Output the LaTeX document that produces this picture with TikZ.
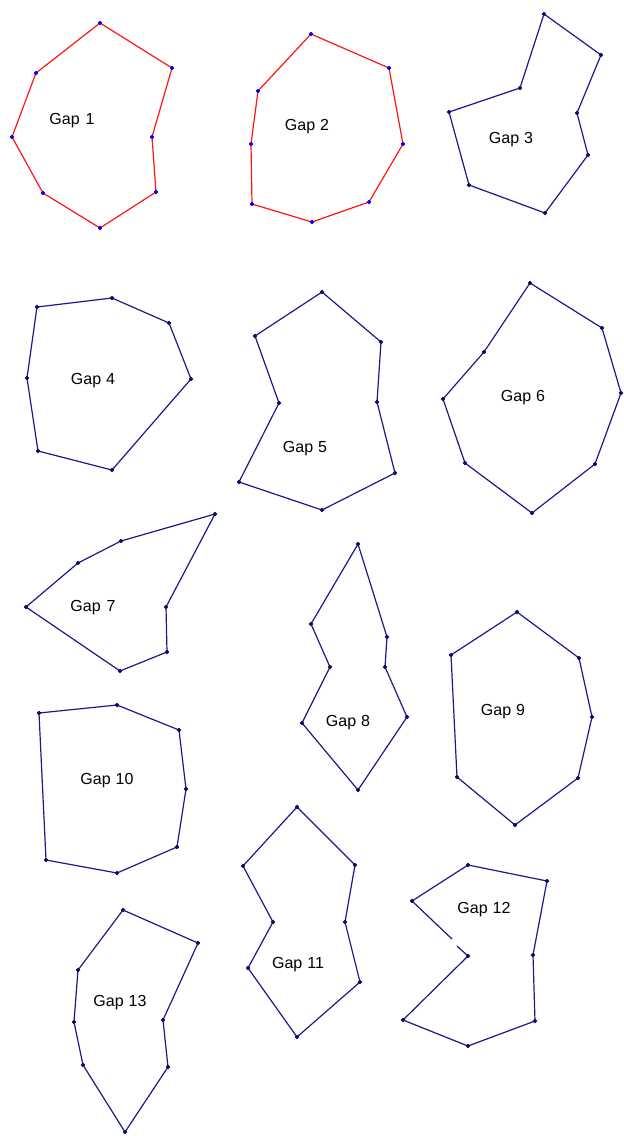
\documentclass[tikz,border=0pt]{standalone}
\usepackage{fontspec}
\setmainfont{Liberation Sans}
\definecolor{gapred}{RGB}{255,20,20}
\definecolor{gapnavy}{RGB}{25,25,140}
\definecolor{marknavy}{RGB}{15,15,100}
\begin{document}
\begin{tikzpicture}[x=1pt,y=-1pt,
  redline/.style={draw=gapred, line width=1.2pt, line join=round},
  navyline/.style={draw=gapnavy, line width=1.2pt, line join=round},
  redmarks/.style={mark=*, mark size=1.5pt, mark options={draw=blue, fill=blue}},
  navymarks/.style={mark=*, mark size=1.6pt, mark options={draw=marknavy, fill=marknavy}},
  gaplabel/.style={font=\fontsize{16}{16}\selectfont, inner sep=0pt}]
\useasboundingbox (0,0) rectangle (624,1136);
% Gap 1
\draw[redline] plot[redmarks] coordinates {(100,23) (172,68) (152,137) (156,192) (100,228) (43,193) (12,137) (36,73)} -- cycle;
\node[gaplabel] (g1) at (72,121) {Gap\hspace{6pt}1};
% Gap 2
\draw[redline] plot[redmarks] coordinates {(311,34) (389,68) (403,144) (369,202) (312,222) (252,204) (251,144) (258,91)} -- cycle;
\node[gaplabel] (g2) at (307,127) {Gap\hspace{5pt}2};
% Gap 3
\draw[navyline] plot[navymarks] coordinates {(544,14) (601,55) (577,113) (588,155) (545,213) (469,185) (449,112) (520,88)} -- cycle;
\node[gaplabel] (g3) at (511,140) {Gap\hspace{5pt}3};
% Gap 4
\draw[navyline] plot[navymarks] coordinates {(37,307) (112,298) (169,323) (191,379) (112,470) (38,451) (27,378)} -- cycle;
\node[gaplabel] (g4) at (93,381) {Gap\hspace{5pt}4};
% Gap 5
\draw[navyline] plot[navymarks] coordinates {(322,292) (381,342) (377,402) (395,473) (322,510) (239,482) (279,403) (255,336)} -- cycle;
\node[gaplabel] (g5) at (305,449) {Gap\hspace{5pt}5};
% Gap 6
\draw[navyline] plot[navymarks] coordinates {(530,283) (602,328) (621,393) (595,464) (532,513) (465,463) (443,399) (484,352)} -- cycle;
\node[gaplabel] (g6) at (523,398) {Gap\hspace{5pt}6};
% Gap 7
\draw[navyline] plot[navymarks] coordinates {(215,514) (166,607) (167,652) (120,671) (26,607) (78,563) (121,541)} -- cycle;
\node[gaplabel] (g7) at (93,608) {Gap\hspace{6pt}7};
% Gap 8
\draw[navyline] plot[navymarks] coordinates {(358,544) (387,637) (385,667) (407,717) (358,790) (302,723) (330,667) (311,624)} -- cycle;
\node[gaplabel] (g8) at (348,723) {Gap\hspace{5pt}8};
% Gap 9
\draw[navyline] plot[navymarks] coordinates {(517,612) (579,658) (592,717) (578,778) (515,825) (457,777) (451,655)} -- cycle;
\node[gaplabel] (g9) at (503,712) {Gap\hspace{5pt}9};
% Gap 10
\draw[navyline] plot[navymarks] coordinates {(39,713) (117,705) (179,730) (186,789) (177,847) (117,873) (46,860)} -- cycle;
\node[gaplabel] (g10) at (107,781) {Gap\hspace{5pt}10};
% Gap 11
\draw[navyline] plot[navymarks] coordinates {(297,807) (355,865) (345,922) (360,982) (297,1037) (248,968) (273,922) (243,866)} -- cycle;
\node[gaplabel] (g11) at (298,965) {Gap\hspace{5pt}11};
% Gap 12
\draw[navyline] plot[navymarks] coordinates {(468,956) (403,1020) (468,1046) (535,1021) (533,955) (547,881) (468,865) (412,901)} -- (452,939);
\draw[navyline] (457,946) -- (468,956);
\node[gaplabel] (g12) at (484,910) {Gap\hspace{5pt}12};
% Gap 13
\draw[navyline] plot[navymarks] coordinates {(123,910) (198,943) (163,1020) (168,1067) (125,1132) (83,1065) (74,1022) (78,970)} -- cycle;
\node[gaplabel] (g13) at (120,1003) {Gap\hspace{5pt}13};
\end{tikzpicture}
\end{document}
